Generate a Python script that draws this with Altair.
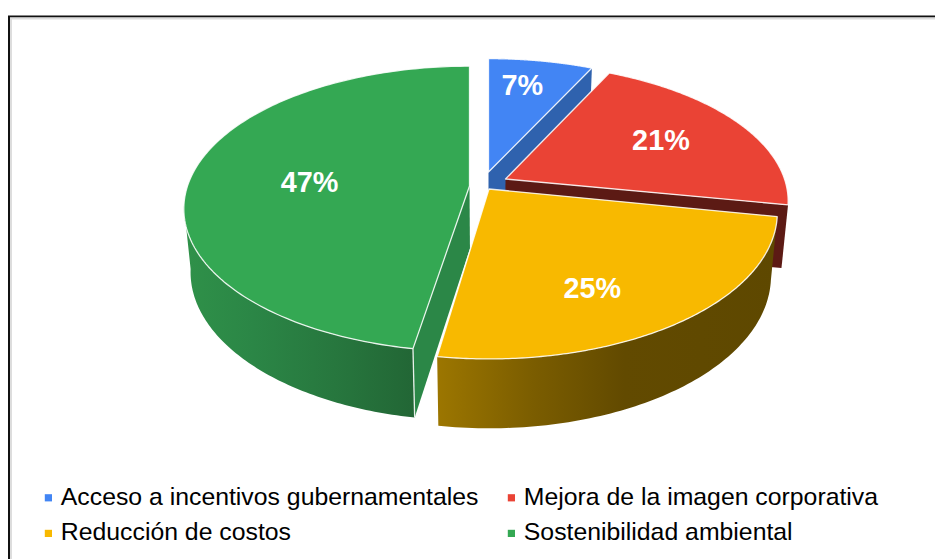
import altair as alt
import numpy as np

# --- chart values -----------------------------------------------------------
categories = ["Acceso a incentivos gubernamentales", "Mejora de la imagen corporativa",
              "Reducción de costos", "Sostenibilidad ambiental"]
shares = [7.0, 21.0, 24.7, 47.3]
share_labels = ["7%", "21%", "25%", "47%"]
colors = ["#4285f4", "#ea4335", "#f8b900", "#34a853"]

# --- 3D look: per-slice exploded placement (screen pixels) ------------------
apex_x = [488.5, 505.5, 489.0, 469.5]
apex_y = [172.0, 179.0, 189.0, 186.0]
radius_x = [278.0, 279.0, 284.6, 282.0]
radius_scale_y = [0.946, 0.965, 1.027, 1.0]
end_trim = [0.0, 0.0, -0.9, 0.0]
label_r = [0.74, 0.655, 0.71, 0.57]
label_turn = [-2.0, 0.0, 7.8, -2.6]
RY, PERSP = 139.0, 0.16
W, H = 927, 551
proj = dict(type="identity", scale=1, translate=[-8, -8])


def top(i, deg, r=1.0):
    t = np.radians(deg)
    u, w = r * np.sin(t), -r * np.cos(t)
    d = 1 - PERSP * w
    return apex_x[i] + radius_x[i] * u / d, apex_y[i] + radius_scale_y[i] * RY * w / d


def low(p):
    x, y = p
    return 490 + (x - 490) * 0.978, y + 63 + 0.04 * (y - 200)


def arc(i, a, b, n=90):
    return [top(i, d) for d in np.linspace(a, b, n)]


def poly(name, pts):
    ring = [[float(x), float(y)] for x, y in pts]
    ring.append(ring[0])
    return {"type": "Feature", "properties": {"name": name},
            "geometry": {"type": "Polygon", "coordinates": [ring]}}


def line(pts):
    return {"type": "Feature", "properties": {"name": "l"},
            "geometry": {"type": "LineString", "coordinates": [[float(x), float(y)] for x, y in pts]}}


edges = np.concatenate([[0], np.cumsum(shares)]) * 3.6
angles = [(edges[i], edges[i + 1] + end_trim[i]) for i in range(4)]
apex = [(apex_x[i], apex_y[i]) for i in range(4)]


def shape(feature, **mark):
    return alt.Chart(alt.Data(values=[feature])).mark_geoshape(**mark).project(**proj)


def gradient(*stops):
    return {"gradient": "linear", "x1": 0, "x2": 1, "y1": 0, "y2": 0,
            "stops": [{"offset": o, "color": c} for o, c in stops]}


def cut(i, deg):
    a, b = apex[i], top(i, deg)
    return [a, b, low(b), low(a)]


def wall(i, a, b):
    pts = arc(i, a, b)
    return pts + [low(p) for p in reversed(pts)]


def face(i):
    a, b = angles[i]
    return poly(categories[i], [apex[i]] + arc(i, a, b, 160))


def top_face(i):
    return alt.Chart(alt.Data(values=[face(i)])).mark_geoshape(
        stroke="#ffffff", strokeWidth=1.3, strokeOpacity=0.85, strokeJoin="round"
    ).encode(
        color=alt.Color("properties.name:N",
                        scale=alt.Scale(domain=categories, range=colors),
                        legend=alt.Legend(
                            title=None, orient="none", legendX=28, legendY=477, columns=2,
                            direction="horizontal",
                            symbolType="square", symbolSize=52, symbolStrokeWidth=0,
                            labelFont="Liberation Sans", labelFontSize=24.8, labelColor="#000000",
                            labelLimit=0, rowPadding=10, columnPadding=20, symbolOffset=0,
                            labelOffset=0, gridAlign="all", padding=0))
    ).project(**proj)


layers = [
    # frame
    shape(poly("bg", [(-9, -9), (960, -9), (960, 570), (-9, 570)]), fill="#ffffff", strokeWidth=0),
    shape(line([(9, 570), (9, 16.5), (960, 16.5)]), filled=False, stroke="#111111", strokeWidth=2),
    shape(line([(11, 570), (11, 18.5), (960, 18.5)]), filled=False, stroke="#dddddd", strokeWidth=2),
    # blue
    shape(poly("w", cut(0, angles[0][1])), fill="#2f62ae", strokeWidth=0),
    top_face(0),
    # red
    shape(poly("w", cut(1, angles[1][1])), fill="#5c1a14", strokeWidth=0),
    top_face(1),
    # green
    shape(poly("w", cut(3, angles[3][0])), fill="#2b8747", strokeWidth=0),
    shape(poly("w", wall(3, angles[3][0], 262)),
          fill=gradient((0, "#2f9149"), (0.3, "#2b8646"), (0.65, "#27773e"), (1, "#226635")), strokeWidth=0),
    top_face(3),
    shape(line([top(3, angles[3][0]), low(top(3, angles[3][0]))]), filled=False, stroke="#e8f0ea", strokeWidth=1.3),
    # yellow
    shape(poly("w", wall(2, angles[2][0], angles[2][1])),
          fill=gradient((0, "#9c7600"), (0.28, "#7b5d00"), (0.55, "#624a00"), (1, "#5e4800")), strokeWidth=0),
    top_face(2),
]

lx, ly = [], []
for i in range(4):
    x, y = top(i, (angles[i][0] + angles[i][1]) / 2 + label_turn[i], label_r[i])
    lx.append(float(x))
    ly.append(float(y))

labels = alt.Chart(alt.Data(values=[
    {"t": share_labels[i], "lon": lx[i], "lat": ly[i]} for i in range(4)
])).mark_text(
    font="Liberation Sans", fontSize=28.8, fontWeight="bold", color="#ffffff",
    align="center", baseline="middle"
).encode(longitude="lon:Q", latitude="lat:Q", text="t:N").project(**proj)

chart = alt.layer(*layers, labels).properties(
    width=W, height=H, padding=0,
    autosize=alt.AutoSizeParams(type="none"),
    background="#ffffff",
).configure_view(stroke=None).resolve_scale(color="shared")

chart.save("out.html", embed_options={"renderer": "svg", "actions": False})
